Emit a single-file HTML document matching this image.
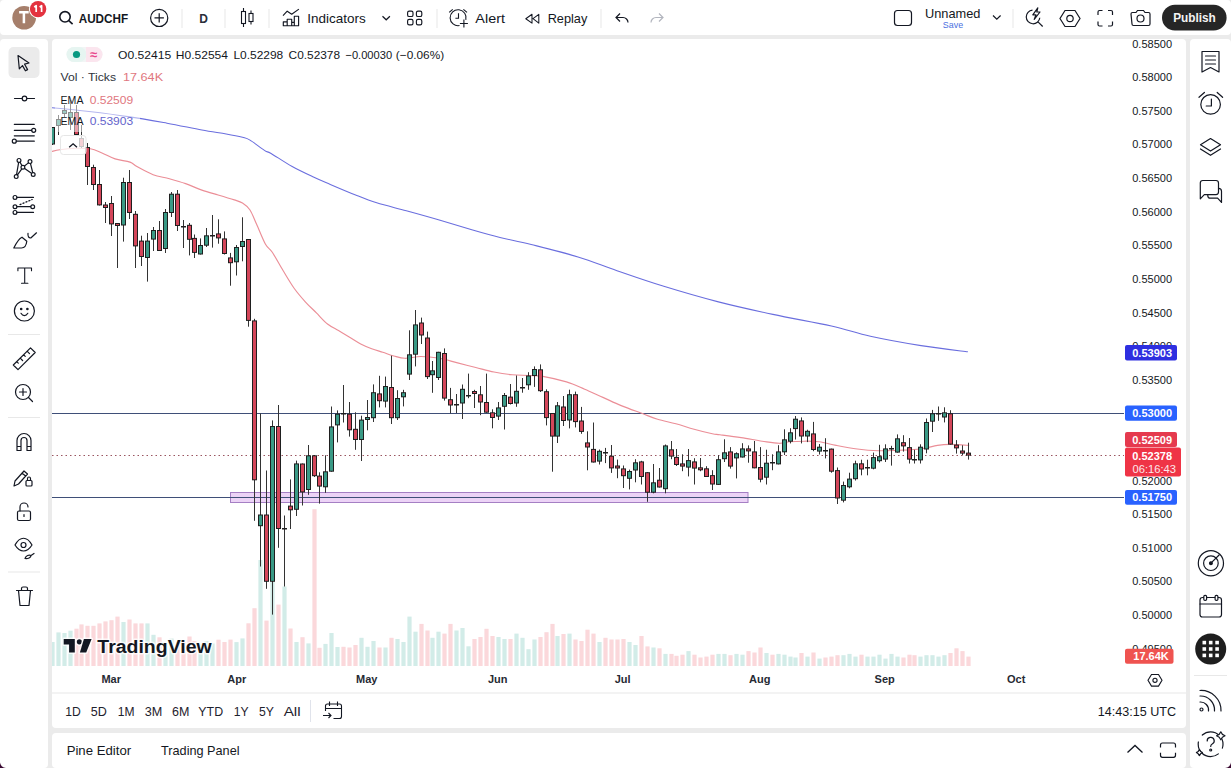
<!DOCTYPE html>
<html><head><meta charset="utf-8"><style>
*{box-sizing:border-box}
html,body{margin:0;padding:0}
body{width:1231px;height:768px;overflow:hidden;position:relative;background:#ebebeb;font-family:"Liberation Sans", sans-serif;color:#131722}
.p{position:absolute;background:#fff;border-radius:4px}
svg.full{position:absolute;left:0;top:0;font-family:"Liberation Sans", sans-serif}
</style></head><body>
<div class="p" style="left:0;top:0;width:1231px;height:35px"></div>
<div class="p" style="left:0;top:39px;width:48px;height:729px"></div>
<div class="p" style="left:52px;top:39px;width:1134px;height:689px"></div>
<div class="p" style="left:52px;top:733px;width:1134px;height:35px"></div>
<div class="p" style="left:1190px;top:39px;width:41px;height:729px"></div>
<svg class="full" width="1231" height="768" viewBox="0 0 1231 768">
<defs><clipPath id="cp"><rect x="52" y="39" width="1073" height="627"/></clipPath></defs>
<g clip-path="url(#cp)">
<rect x="50.4" y="642.0" width="4.2" height="24.0" fill="#d2ece8"/>
<rect x="56.4" y="632.4" width="4.2" height="33.6" fill="#d2ece8"/>
<rect x="62.4" y="633.0" width="4.2" height="33.0" fill="#d2ece8"/>
<rect x="68.4" y="630.7" width="4.2" height="35.3" fill="#d2ece8"/>
<rect x="74.4" y="628.7" width="4.2" height="37.3" fill="#fbd8db"/>
<rect x="79.4" y="624.4" width="4.2" height="41.6" fill="#fbd8db"/>
<rect x="85.4" y="625.8" width="4.2" height="40.2" fill="#fbd8db"/>
<rect x="91.4" y="625.8" width="4.2" height="40.2" fill="#fbd8db"/>
<rect x="97.4" y="623.4" width="4.2" height="42.6" fill="#fbd8db"/>
<rect x="103.4" y="621.4" width="4.2" height="44.6" fill="#fbd8db"/>
<rect x="109.4" y="620.2" width="4.2" height="45.8" fill="#fbd8db"/>
<rect x="115.4" y="616.6" width="4.2" height="49.4" fill="#fbd8db"/>
<rect x="121.4" y="622.0" width="4.2" height="44.0" fill="#d2ece8"/>
<rect x="127.4" y="619.5" width="4.2" height="46.5" fill="#fbd8db"/>
<rect x="133.4" y="623.4" width="4.2" height="42.6" fill="#fbd8db"/>
<rect x="139.4" y="623.4" width="4.2" height="42.6" fill="#fbd8db"/>
<rect x="145.4" y="623.4" width="4.2" height="42.6" fill="#d2ece8"/>
<rect x="151.4" y="634.8" width="4.2" height="31.2" fill="#d2ece8"/>
<rect x="157.4" y="637.3" width="4.2" height="28.7" fill="#fbd8db"/>
<rect x="163.4" y="642.9" width="4.2" height="23.1" fill="#d2ece8"/>
<rect x="169.4" y="638.5" width="4.2" height="27.5" fill="#d2ece8"/>
<rect x="175.4" y="643.9" width="4.2" height="22.1" fill="#fbd8db"/>
<rect x="181.4" y="642.0" width="4.2" height="24.0" fill="#fbd8db"/>
<rect x="187.4" y="636.5" width="4.2" height="29.5" fill="#fbd8db"/>
<rect x="192.4" y="641.0" width="4.2" height="25.0" fill="#fbd8db"/>
<rect x="198.4" y="643.9" width="4.2" height="22.1" fill="#d2ece8"/>
<rect x="204.4" y="641.0" width="4.2" height="25.0" fill="#d2ece8"/>
<rect x="210.4" y="643.4" width="4.2" height="22.6" fill="#d2ece8"/>
<rect x="216.4" y="639.7" width="4.2" height="26.3" fill="#fbd8db"/>
<rect x="222.4" y="642.0" width="4.2" height="24.0" fill="#fbd8db"/>
<rect x="228.4" y="639.6" width="4.2" height="26.4" fill="#fbd8db"/>
<rect x="234.4" y="642.1" width="4.2" height="23.9" fill="#d2ece8"/>
<rect x="240.4" y="638.4" width="4.2" height="27.6" fill="#d2ece8"/>
<rect x="246.4" y="623.3" width="4.2" height="42.7" fill="#fbd8db"/>
<rect x="252.4" y="608.2" width="4.2" height="57.8" fill="#fbd8db"/>
<rect x="258.4" y="560.0" width="4.2" height="106.0" fill="#d2ece8"/>
<rect x="264.4" y="620.6" width="4.2" height="45.4" fill="#fbd8db"/>
<rect x="270.4" y="582.0" width="4.2" height="84.0" fill="#d2ece8"/>
<rect x="276.4" y="604.6" width="4.2" height="61.4" fill="#fbd8db"/>
<rect x="282.4" y="586.5" width="4.2" height="79.5" fill="#d2ece8"/>
<rect x="288.4" y="628.5" width="4.2" height="37.5" fill="#fbd8db"/>
<rect x="294.4" y="642.0" width="4.2" height="24.0" fill="#d2ece8"/>
<rect x="300.4" y="637.2" width="4.2" height="28.8" fill="#fbd8db"/>
<rect x="306.4" y="643.4" width="4.2" height="22.6" fill="#d2ece8"/>
<rect x="312.4" y="509.2" width="4.2" height="156.8" fill="#fbd8db"/>
<rect x="317.4" y="647.8" width="4.2" height="18.2" fill="#fbd8db"/>
<rect x="323.4" y="643.9" width="4.2" height="22.1" fill="#d2ece8"/>
<rect x="329.4" y="633.0" width="4.2" height="33.0" fill="#d2ece8"/>
<rect x="335.4" y="647.0" width="4.2" height="19.0" fill="#d2ece8"/>
<rect x="341.4" y="646.8" width="4.2" height="19.2" fill="#fbd8db"/>
<rect x="347.4" y="647.5" width="4.2" height="18.5" fill="#fbd8db"/>
<rect x="353.4" y="645.0" width="4.2" height="21.0" fill="#fbd8db"/>
<rect x="359.4" y="637.8" width="4.2" height="28.2" fill="#d2ece8"/>
<rect x="365.4" y="646.8" width="4.2" height="19.2" fill="#d2ece8"/>
<rect x="371.4" y="641.0" width="4.2" height="25.0" fill="#d2ece8"/>
<rect x="377.4" y="647.5" width="4.2" height="18.5" fill="#fbd8db"/>
<rect x="383.4" y="647.5" width="4.2" height="18.5" fill="#d2ece8"/>
<rect x="389.4" y="637.8" width="4.2" height="28.2" fill="#fbd8db"/>
<rect x="395.4" y="639.0" width="4.2" height="27.0" fill="#d2ece8"/>
<rect x="401.4" y="642.0" width="4.2" height="24.0" fill="#d2ece8"/>
<rect x="407.4" y="616.6" width="4.2" height="49.4" fill="#d2ece8"/>
<rect x="413.4" y="631.7" width="4.2" height="34.3" fill="#d2ece8"/>
<rect x="419.4" y="623.9" width="4.2" height="42.1" fill="#fbd8db"/>
<rect x="425.4" y="630.5" width="4.2" height="35.5" fill="#fbd8db"/>
<rect x="430.4" y="637.8" width="4.2" height="28.2" fill="#d2ece8"/>
<rect x="436.4" y="631.7" width="4.2" height="34.3" fill="#d2ece8"/>
<rect x="442.4" y="633.6" width="4.2" height="32.4" fill="#fbd8db"/>
<rect x="448.4" y="623.9" width="4.2" height="42.1" fill="#fbd8db"/>
<rect x="454.4" y="630.5" width="4.2" height="35.5" fill="#d2ece8"/>
<rect x="460.4" y="628.0" width="4.2" height="38.0" fill="#d2ece8"/>
<rect x="466.4" y="646.3" width="4.2" height="19.7" fill="#d2ece8"/>
<rect x="472.4" y="639.0" width="4.2" height="27.0" fill="#fbd8db"/>
<rect x="478.4" y="637.0" width="4.2" height="29.0" fill="#fbd8db"/>
<rect x="484.4" y="628.8" width="4.2" height="37.2" fill="#fbd8db"/>
<rect x="490.4" y="636.0" width="4.2" height="30.0" fill="#fbd8db"/>
<rect x="496.4" y="637.0" width="4.2" height="29.0" fill="#d2ece8"/>
<rect x="502.4" y="639.0" width="4.2" height="27.0" fill="#d2ece8"/>
<rect x="508.4" y="639.0" width="4.2" height="27.0" fill="#fbd8db"/>
<rect x="514.4" y="633.6" width="4.2" height="32.4" fill="#d2ece8"/>
<rect x="520.4" y="637.8" width="4.2" height="28.2" fill="#d2ece8"/>
<rect x="526.4" y="649.2" width="4.2" height="16.8" fill="#d2ece8"/>
<rect x="532.4" y="639.5" width="4.2" height="26.5" fill="#d2ece8"/>
<rect x="538.4" y="637.0" width="4.2" height="29.0" fill="#fbd8db"/>
<rect x="544.4" y="632.2" width="4.2" height="33.8" fill="#fbd8db"/>
<rect x="550.4" y="623.9" width="4.2" height="42.1" fill="#fbd8db"/>
<rect x="555.4" y="636.0" width="4.2" height="30.0" fill="#d2ece8"/>
<rect x="561.4" y="634.0" width="4.2" height="32.0" fill="#fbd8db"/>
<rect x="567.4" y="633.6" width="4.2" height="32.4" fill="#d2ece8"/>
<rect x="573.4" y="639.5" width="4.2" height="26.5" fill="#fbd8db"/>
<rect x="579.4" y="641.0" width="4.2" height="25.0" fill="#fbd8db"/>
<rect x="585.4" y="629.7" width="4.2" height="36.3" fill="#fbd8db"/>
<rect x="591.4" y="633.6" width="4.2" height="32.4" fill="#fbd8db"/>
<rect x="597.4" y="642.0" width="4.2" height="24.0" fill="#d2ece8"/>
<rect x="603.4" y="637.8" width="4.2" height="28.2" fill="#fbd8db"/>
<rect x="609.4" y="639.5" width="4.2" height="26.5" fill="#fbd8db"/>
<rect x="615.4" y="639.5" width="4.2" height="26.5" fill="#fbd8db"/>
<rect x="621.4" y="639.0" width="4.2" height="27.0" fill="#fbd8db"/>
<rect x="627.4" y="642.0" width="4.2" height="24.0" fill="#d2ece8"/>
<rect x="633.4" y="645.0" width="4.2" height="21.0" fill="#d2ece8"/>
<rect x="639.4" y="636.0" width="4.2" height="30.0" fill="#fbd8db"/>
<rect x="645.4" y="646.4" width="4.2" height="19.6" fill="#fbd8db"/>
<rect x="651.4" y="647.5" width="4.2" height="18.5" fill="#d2ece8"/>
<rect x="657.4" y="648.3" width="4.2" height="17.7" fill="#fbd8db"/>
<rect x="663.4" y="653.9" width="4.2" height="12.1" fill="#d2ece8"/>
<rect x="669.4" y="653.9" width="4.2" height="12.1" fill="#fbd8db"/>
<rect x="674.4" y="655.8" width="4.2" height="10.2" fill="#fbd8db"/>
<rect x="680.4" y="654.7" width="4.2" height="11.3" fill="#fbd8db"/>
<rect x="686.4" y="651.1" width="4.2" height="14.9" fill="#d2ece8"/>
<rect x="692.4" y="654.7" width="4.2" height="11.3" fill="#fbd8db"/>
<rect x="698.4" y="657.5" width="4.2" height="8.5" fill="#fbd8db"/>
<rect x="704.4" y="656.6" width="4.2" height="9.4" fill="#fbd8db"/>
<rect x="710.4" y="654.7" width="4.2" height="11.3" fill="#fbd8db"/>
<rect x="716.4" y="653.9" width="4.2" height="12.1" fill="#d2ece8"/>
<rect x="722.4" y="653.9" width="4.2" height="12.1" fill="#d2ece8"/>
<rect x="728.4" y="655.2" width="4.2" height="10.8" fill="#fbd8db"/>
<rect x="734.4" y="653.9" width="4.2" height="12.1" fill="#d2ece8"/>
<rect x="740.4" y="654.7" width="4.2" height="11.3" fill="#d2ece8"/>
<rect x="746.4" y="651.1" width="4.2" height="14.9" fill="#fbd8db"/>
<rect x="752.4" y="652.5" width="4.2" height="13.5" fill="#fbd8db"/>
<rect x="758.4" y="647.5" width="4.2" height="18.5" fill="#fbd8db"/>
<rect x="764.4" y="653.0" width="4.2" height="13.0" fill="#d2ece8"/>
<rect x="770.4" y="654.7" width="4.2" height="11.3" fill="#fbd8db"/>
<rect x="776.4" y="653.9" width="4.2" height="12.1" fill="#d2ece8"/>
<rect x="782.4" y="654.7" width="4.2" height="11.3" fill="#d2ece8"/>
<rect x="788.4" y="656.6" width="4.2" height="9.4" fill="#d2ece8"/>
<rect x="793.4" y="657.5" width="4.2" height="8.5" fill="#d2ece8"/>
<rect x="799.4" y="653.0" width="4.2" height="13.0" fill="#fbd8db"/>
<rect x="805.4" y="656.6" width="4.2" height="9.4" fill="#d2ece8"/>
<rect x="811.4" y="652.5" width="4.2" height="13.5" fill="#fbd8db"/>
<rect x="817.4" y="658.6" width="4.2" height="7.4" fill="#d2ece8"/>
<rect x="823.4" y="657.5" width="4.2" height="8.5" fill="#fbd8db"/>
<rect x="829.4" y="656.6" width="4.2" height="9.4" fill="#fbd8db"/>
<rect x="835.4" y="655.2" width="4.2" height="10.8" fill="#fbd8db"/>
<rect x="841.4" y="655.2" width="4.2" height="10.8" fill="#d2ece8"/>
<rect x="847.4" y="653.9" width="4.2" height="12.1" fill="#d2ece8"/>
<rect x="853.4" y="656.6" width="4.2" height="9.4" fill="#d2ece8"/>
<rect x="859.4" y="654.7" width="4.2" height="11.3" fill="#fbd8db"/>
<rect x="865.4" y="656.6" width="4.2" height="9.4" fill="#d2ece8"/>
<rect x="871.4" y="656.6" width="4.2" height="9.4" fill="#d2ece8"/>
<rect x="877.4" y="654.7" width="4.2" height="11.3" fill="#d2ece8"/>
<rect x="883.4" y="658.6" width="4.2" height="7.4" fill="#d2ece8"/>
<rect x="889.4" y="653.9" width="4.2" height="12.1" fill="#d2ece8"/>
<rect x="895.4" y="656.6" width="4.2" height="9.4" fill="#d2ece8"/>
<rect x="901.4" y="657.5" width="4.2" height="8.5" fill="#fbd8db"/>
<rect x="907.4" y="654.7" width="4.2" height="11.3" fill="#fbd8db"/>
<rect x="912.4" y="655.2" width="4.2" height="10.8" fill="#fbd8db"/>
<rect x="918.4" y="656.6" width="4.2" height="9.4" fill="#d2ece8"/>
<rect x="924.4" y="655.2" width="4.2" height="10.8" fill="#d2ece8"/>
<rect x="930.4" y="655.2" width="4.2" height="10.8" fill="#d2ece8"/>
<rect x="936.4" y="656.6" width="4.2" height="9.4" fill="#d2ece8"/>
<rect x="942.4" y="655.2" width="4.2" height="10.8" fill="#d2ece8"/>
<rect x="948.4" y="653.0" width="4.2" height="13.0" fill="#fbd8db"/>
<rect x="954.4" y="648.3" width="4.2" height="17.7" fill="#fbd8db"/>
<rect x="960.4" y="651.1" width="4.2" height="14.9" fill="#fbd8db"/>
<rect x="966.4" y="656.6" width="4.2" height="9.4" fill="#fbd8db"/>
<rect x="230.5" y="492.5" width="517.5" height="10" fill="#ecd3f6" stroke="#a57fc4" stroke-width="1"/>
<rect x="52" y="413" width="1072" height="1" fill="#3f4f78"/>
<rect x="52" y="497" width="1072" height="1" fill="#3f4f78"/>
<line x1="52" y1="455.5" x2="1124" y2="455.5" stroke="#9a5560" stroke-width="1" stroke-dasharray="1.5 3"/>
<path d="M50.0,107.6 C56.5,108.2 76.0,110.0 89.0,111.5 C102.0,113.0 115.0,114.6 128.0,116.6 C141.0,118.5 154.7,121.0 167.0,123.2 C179.3,125.4 192.0,128.2 201.9,130.0 C211.8,131.8 219.4,132.8 226.2,134.0 C233.0,135.2 238.5,136.3 242.5,137.3 C246.5,138.3 246.3,137.9 250.0,140.1 C253.7,142.3 261.3,148.4 264.8,150.6 C268.3,152.8 266.5,150.8 271.1,153.4 C275.7,156.1 285.1,162.6 292.2,166.5 C299.2,170.4 307.0,174.0 313.4,177.0 C319.8,180.0 323.3,181.4 330.3,184.4 C337.3,187.4 347.9,191.9 355.6,195.0 C363.3,198.1 368.2,200.2 376.7,202.8 C385.1,205.4 395.7,207.9 406.3,210.8 C416.9,213.7 429.2,217.1 440.1,220.3 C451.0,223.5 461.8,226.9 471.8,229.8 C481.8,232.7 490.1,235.1 500.0,237.5 C509.9,239.9 518.2,241.2 531.2,244.5 C544.2,247.8 563.7,252.6 578.0,257.0 C592.3,261.4 602.7,265.8 617.0,270.7 C631.3,275.6 646.9,281.1 663.8,286.3 C680.7,291.5 700.2,297.2 718.4,301.9 C736.6,306.6 754.1,310.4 772.9,314.4 C791.7,318.4 815.1,322.4 831.4,326.0 C847.6,329.6 855.4,332.9 870.4,336.2 C885.4,339.5 904.9,343.0 921.1,345.6 C937.4,348.2 960.1,350.8 967.9,351.8" fill="none" stroke="#6a6ede" stroke-width="1.1"/>
<path d="M52.0,151.4 C53.3,151.1 56.0,150.2 59.8,149.7 C63.6,149.2 69.9,148.5 75.0,148.3 C80.1,148.2 85.9,148.0 90.4,148.8 C94.9,149.6 97.9,151.3 102.0,153.0 C106.1,154.7 110.4,157.4 115.1,158.9 C119.8,160.4 126.4,160.8 130.0,162.1 C133.6,163.4 133.1,164.5 136.9,166.6 C140.8,168.7 147.7,172.7 153.1,174.7 C158.5,176.7 164.0,177.2 169.4,178.7 C174.8,180.2 180.2,181.7 185.6,183.6 C191.0,185.5 196.5,188.2 201.9,190.1 C207.3,192.0 212.7,193.4 218.1,195.0 C223.5,196.6 230.2,198.6 234.3,199.9 C238.4,201.2 239.9,201.4 242.5,203.1 C245.1,204.8 247.7,206.5 250.0,210.0 C252.3,213.5 254.0,218.6 256.6,224.3 C259.2,230.0 262.9,239.7 265.5,244.3 C268.1,248.9 269.2,247.6 272.1,252.0 C275.1,256.4 279.5,264.7 283.2,270.8 C286.9,276.9 290.6,283.3 294.3,288.5 C298.0,293.7 301.6,297.7 305.3,301.8 C309.0,305.9 312.7,309.2 316.4,312.9 C320.1,316.6 323.8,321.1 327.5,324.0 C331.2,326.9 334.8,328.4 338.5,330.6 C342.2,332.8 345.9,335.0 349.6,337.2 C353.3,339.4 357.0,342.0 360.7,343.9 C364.4,345.8 368.0,347.3 371.7,348.7 C375.4,350.1 379.1,351.1 382.8,352.3 C386.5,353.5 390.2,355.0 393.9,356.0 C397.6,357.0 400.5,358.2 405.0,358.3 C409.5,358.4 415.3,356.5 421.0,356.5 C426.7,356.5 433.3,357.2 439.4,358.3 C445.5,359.4 451.5,361.4 457.6,362.9 C463.7,364.4 469.7,366.0 475.8,367.5 C481.9,369.0 487.9,370.8 494.0,372.0 C500.1,373.2 506.5,374.2 512.3,374.8 C518.1,375.4 523.6,375.2 528.7,375.5 C533.8,375.8 536.5,375.3 542.8,376.4 C549.1,377.5 559.5,379.8 566.5,381.9 C573.5,384.0 578.6,386.6 584.7,389.2 C590.8,391.8 596.8,394.7 602.9,397.4 C609.0,400.1 614.5,402.9 621.2,405.6 C627.9,408.3 636.9,411.5 643.0,413.8 C649.1,416.1 652.1,417.6 657.6,419.2 C663.1,420.9 669.8,422.1 675.9,423.8 C682.0,425.5 688.0,427.6 694.1,429.3 C700.2,431.0 708.0,432.9 712.3,433.8 C716.6,434.7 715.2,434.2 720.0,434.8 C724.8,435.4 734.1,436.5 741.1,437.6 C748.1,438.7 755.9,440.2 762.2,441.2 C768.5,442.1 774.5,443.2 779.1,443.3 C783.7,443.4 785.5,442.2 789.7,441.8 C793.9,441.4 799.6,441.2 804.5,441.2 C809.4,441.2 814.0,441.1 819.3,441.8 C824.6,442.5 829.9,444.2 836.2,445.4 C842.5,446.6 850.3,448.1 857.3,449.0 C864.3,449.9 871.4,450.5 878.4,450.7 C885.4,450.9 892.5,450.6 899.5,450.3 C906.5,450.0 914.3,449.8 920.6,449.0 C926.9,448.2 932.6,446.2 937.5,445.4 C942.4,444.6 944.9,444.4 950.2,444.4 C955.5,444.4 966.0,445.2 969.2,445.4" fill="none" stroke="#eb8e97" stroke-width="1.15"/>
<rect x="52" y="127.0" width="1" height="18.0" fill="#333333"/>
<rect x="50" y="127.0" width="5" height="17.5" fill="#1f1f1f"/>
<rect x="51" y="128.0" width="3" height="15.5" fill="#3a9a86"/>
<rect x="58" y="115.0" width="1" height="20.0" fill="#333333"/>
<rect x="56" y="119.0" width="5" height="7.0" fill="#1f1f1f"/>
<rect x="57" y="120.0" width="3" height="5.0" fill="#3a9a86"/>
<rect x="64" y="105.0" width="1" height="12.0" fill="#333333"/>
<rect x="62" y="110.0" width="5" height="4.0" fill="#1f1f1f"/>
<rect x="63" y="111.0" width="3" height="2.0" fill="#3a9a86"/>
<rect x="70" y="100.0" width="1" height="30.0" fill="#333333"/>
<rect x="68" y="112.0" width="5" height="6.0" fill="#1f1f1f"/>
<rect x="69" y="113.0" width="3" height="4.0" fill="#3a9a86"/>
<rect x="76" y="105.0" width="1" height="30.0" fill="#333333"/>
<rect x="74" y="112.0" width="5" height="23.0" fill="#1f1f1f"/>
<rect x="75" y="113.0" width="3" height="21.0" fill="#d4465a"/>
<rect x="81" y="125.0" width="1" height="23.0" fill="#333333"/>
<rect x="79" y="138.0" width="5" height="9.0" fill="#1f1f1f"/>
<rect x="80" y="139.0" width="3" height="7.0" fill="#d4465a"/>
<rect x="87" y="143.0" width="1" height="42.0" fill="#333333"/>
<rect x="85" y="147.0" width="5" height="20.0" fill="#1f1f1f"/>
<rect x="86" y="148.0" width="3" height="18.0" fill="#d4465a"/>
<rect x="93" y="164.7" width="1" height="25.3" fill="#333333"/>
<rect x="91" y="167.0" width="5" height="18.0" fill="#1f1f1f"/>
<rect x="92" y="168.0" width="3" height="16.0" fill="#d4465a"/>
<rect x="99" y="170.0" width="1" height="35.5" fill="#333333"/>
<rect x="97" y="184.0" width="5" height="21.4" fill="#1f1f1f"/>
<rect x="98" y="185.0" width="3" height="19.4" fill="#d4465a"/>
<rect x="105" y="202.0" width="1" height="21.0" fill="#333333"/>
<rect x="103" y="204.5" width="5" height="3.5" fill="#1f1f1f"/>
<rect x="104" y="205.5" width="3" height="1.5" fill="#d4465a"/>
<rect x="111" y="196.0" width="1" height="40.0" fill="#333333"/>
<rect x="109" y="203.0" width="5" height="21.4" fill="#1f1f1f"/>
<rect x="110" y="204.0" width="3" height="19.4" fill="#d4465a"/>
<rect x="117" y="223.0" width="1" height="45.0" fill="#333333"/>
<rect x="115" y="223.0" width="5" height="3.0" fill="#1f1f1f"/>
<rect x="116" y="224.0" width="3" height="1.0" fill="#d4465a"/>
<rect x="123" y="177.7" width="1" height="63.9" fill="#333333"/>
<rect x="121" y="182.0" width="5" height="43.5" fill="#1f1f1f"/>
<rect x="122" y="183.0" width="3" height="41.5" fill="#3a9a86"/>
<rect x="129" y="170.0" width="1" height="49.0" fill="#333333"/>
<rect x="127" y="182.0" width="5" height="31.0" fill="#1f1f1f"/>
<rect x="128" y="183.0" width="3" height="29.0" fill="#d4465a"/>
<rect x="135" y="211.0" width="1" height="57.0" fill="#333333"/>
<rect x="133" y="213.8" width="5" height="32.6" fill="#1f1f1f"/>
<rect x="134" y="214.8" width="3" height="30.6" fill="#d4465a"/>
<rect x="141" y="235.7" width="1" height="30.3" fill="#333333"/>
<rect x="139" y="240.6" width="5" height="16.4" fill="#1f1f1f"/>
<rect x="140" y="241.6" width="3" height="14.4" fill="#d4465a"/>
<rect x="147" y="233.0" width="1" height="48.6" fill="#333333"/>
<rect x="145" y="240.6" width="5" height="17.4" fill="#1f1f1f"/>
<rect x="146" y="241.6" width="3" height="15.4" fill="#3a9a86"/>
<rect x="153" y="227.0" width="1" height="24.0" fill="#333333"/>
<rect x="151" y="230.0" width="5" height="9.6" fill="#1f1f1f"/>
<rect x="152" y="231.0" width="3" height="7.6" fill="#3a9a86"/>
<rect x="159" y="221.0" width="1" height="30.0" fill="#333333"/>
<rect x="157" y="230.0" width="5" height="21.0" fill="#1f1f1f"/>
<rect x="158" y="231.0" width="3" height="19.0" fill="#d4465a"/>
<rect x="165" y="209.0" width="1" height="44.0" fill="#333333"/>
<rect x="163" y="212.0" width="5" height="37.0" fill="#1f1f1f"/>
<rect x="164" y="213.0" width="3" height="35.0" fill="#3a9a86"/>
<rect x="171" y="192.0" width="1" height="25.0" fill="#333333"/>
<rect x="169" y="193.7" width="5" height="19.3" fill="#1f1f1f"/>
<rect x="170" y="194.7" width="3" height="17.3" fill="#3a9a86"/>
<rect x="177" y="190.0" width="1" height="41.0" fill="#333333"/>
<rect x="175" y="193.7" width="5" height="32.3" fill="#1f1f1f"/>
<rect x="176" y="194.7" width="3" height="30.3" fill="#d4465a"/>
<rect x="183" y="220.0" width="1" height="28.0" fill="#333333"/>
<rect x="181" y="226" width="5" height="1.5" fill="#1f1f1f"/>
<rect x="189" y="223.0" width="1" height="32.4" fill="#333333"/>
<rect x="187" y="224.8" width="5" height="15.0" fill="#1f1f1f"/>
<rect x="188" y="225.8" width="3" height="13.0" fill="#d4465a"/>
<rect x="194" y="234.5" width="1" height="23.5" fill="#333333"/>
<rect x="192" y="237.9" width="5" height="15.0" fill="#1f1f1f"/>
<rect x="193" y="238.9" width="3" height="13.0" fill="#d4465a"/>
<rect x="200" y="238.4" width="1" height="16.1" fill="#333333"/>
<rect x="198" y="245.0" width="5" height="9.5" fill="#1f1f1f"/>
<rect x="199" y="246.0" width="3" height="7.5" fill="#3a9a86"/>
<rect x="206" y="228.0" width="1" height="19.0" fill="#333333"/>
<rect x="204" y="235.3" width="5" height="10.4" fill="#1f1f1f"/>
<rect x="205" y="236.3" width="3" height="8.4" fill="#3a9a86"/>
<rect x="212" y="215.0" width="1" height="32.6" fill="#333333"/>
<rect x="210" y="235" width="5" height="1.5" fill="#1f1f1f"/>
<rect x="218" y="219.3" width="1" height="24.4" fill="#333333"/>
<rect x="216" y="233.4" width="5" height="5.0" fill="#1f1f1f"/>
<rect x="217" y="234.4" width="3" height="3.0" fill="#d4465a"/>
<rect x="224" y="231.4" width="1" height="23.1" fill="#333333"/>
<rect x="222" y="238.4" width="5" height="15.6" fill="#1f1f1f"/>
<rect x="223" y="239.4" width="3" height="13.6" fill="#d4465a"/>
<rect x="230" y="252.9" width="1" height="32.8" fill="#333333"/>
<rect x="228" y="257.4" width="5" height="5.8" fill="#1f1f1f"/>
<rect x="229" y="258.4" width="3" height="3.8" fill="#d4465a"/>
<rect x="236" y="245.0" width="1" height="30.5" fill="#333333"/>
<rect x="234" y="247.0" width="5" height="15.3" fill="#1f1f1f"/>
<rect x="235" y="248.0" width="3" height="13.3" fill="#3a9a86"/>
<rect x="242" y="217.3" width="1" height="44.0" fill="#333333"/>
<rect x="240" y="241.0" width="5" height="6.0" fill="#1f1f1f"/>
<rect x="241" y="242.0" width="3" height="4.0" fill="#3a9a86"/>
<rect x="248" y="239.0" width="1" height="87.7" fill="#333333"/>
<rect x="246" y="239.0" width="5" height="81.9" fill="#1f1f1f"/>
<rect x="247" y="240.0" width="3" height="79.9" fill="#d4465a"/>
<rect x="254" y="318.8" width="1" height="202.0" fill="#333333"/>
<rect x="252" y="320.4" width="5" height="159.9" fill="#1f1f1f"/>
<rect x="253" y="321.4" width="3" height="157.9" fill="#d4465a"/>
<rect x="260" y="413.5" width="1" height="153.0" fill="#333333"/>
<rect x="258" y="514.5" width="5" height="11.7" fill="#1f1f1f"/>
<rect x="259" y="515.5" width="3" height="9.7" fill="#3a9a86"/>
<rect x="266" y="470.5" width="1" height="118.3" fill="#333333"/>
<rect x="264" y="514.5" width="5" height="67.3" fill="#1f1f1f"/>
<rect x="265" y="515.5" width="3" height="65.3" fill="#d4465a"/>
<rect x="272" y="420.4" width="1" height="194.2" fill="#333333"/>
<rect x="270" y="426.0" width="5" height="155.8" fill="#1f1f1f"/>
<rect x="271" y="427.0" width="3" height="153.8" fill="#3a9a86"/>
<rect x="278" y="405.0" width="1" height="142.8" fill="#333333"/>
<rect x="276" y="426.0" width="5" height="103.0" fill="#1f1f1f"/>
<rect x="277" y="427.0" width="3" height="101.0" fill="#d4465a"/>
<rect x="284" y="515.5" width="1" height="71.0" fill="#333333"/>
<rect x="282" y="528" width="5" height="1.5" fill="#1f1f1f"/>
<rect x="290" y="479.4" width="1" height="49.6" fill="#333333"/>
<rect x="288" y="505.6" width="5" height="4.7" fill="#1f1f1f"/>
<rect x="289" y="506.6" width="3" height="2.7" fill="#d4465a"/>
<rect x="296" y="460.6" width="1" height="55.4" fill="#333333"/>
<rect x="294" y="463.4" width="5" height="46.4" fill="#1f1f1f"/>
<rect x="295" y="464.4" width="3" height="44.4" fill="#3a9a86"/>
<rect x="302" y="463.5" width="1" height="42.0" fill="#333333"/>
<rect x="300" y="463.5" width="5" height="28.9" fill="#1f1f1f"/>
<rect x="301" y="464.5" width="3" height="26.9" fill="#d4465a"/>
<rect x="308" y="445.0" width="1" height="49.8" fill="#333333"/>
<rect x="306" y="455.3" width="5" height="34.7" fill="#1f1f1f"/>
<rect x="307" y="456.3" width="3" height="32.7" fill="#3a9a86"/>
<rect x="314" y="455.0" width="1" height="22.0" fill="#333333"/>
<rect x="312" y="455.3" width="5" height="20.9" fill="#1f1f1f"/>
<rect x="313" y="456.3" width="3" height="18.9" fill="#d4465a"/>
<rect x="319" y="472.3" width="1" height="31.3" fill="#333333"/>
<rect x="317" y="475.6" width="5" height="11.0" fill="#1f1f1f"/>
<rect x="318" y="476.6" width="3" height="9.0" fill="#d4465a"/>
<rect x="325" y="455.3" width="1" height="37.5" fill="#333333"/>
<rect x="323" y="471.3" width="5" height="16.0" fill="#1f1f1f"/>
<rect x="324" y="472.3" width="3" height="14.0" fill="#3a9a86"/>
<rect x="331" y="406.5" width="1" height="65.2" fill="#333333"/>
<rect x="329" y="426.4" width="5" height="45.3" fill="#1f1f1f"/>
<rect x="330" y="427.4" width="3" height="43.3" fill="#3a9a86"/>
<rect x="337" y="410.4" width="1" height="32.0" fill="#333333"/>
<rect x="335" y="413.7" width="5" height="11.7" fill="#1f1f1f"/>
<rect x="336" y="414.7" width="3" height="9.7" fill="#3a9a86"/>
<rect x="343" y="385.0" width="1" height="37.5" fill="#333333"/>
<rect x="341" y="413" width="5" height="1.5" fill="#1f1f1f"/>
<rect x="349" y="402.0" width="1" height="34.6" fill="#333333"/>
<rect x="347" y="413.7" width="5" height="16.6" fill="#1f1f1f"/>
<rect x="348" y="414.7" width="3" height="14.6" fill="#d4465a"/>
<rect x="355" y="412.3" width="1" height="37.5" fill="#333333"/>
<rect x="353" y="428.8" width="5" height="11.2" fill="#1f1f1f"/>
<rect x="354" y="429.8" width="3" height="9.2" fill="#d4465a"/>
<rect x="361" y="415.7" width="1" height="45.3" fill="#333333"/>
<rect x="359" y="419.6" width="5" height="20.4" fill="#1f1f1f"/>
<rect x="360" y="420.6" width="3" height="18.4" fill="#3a9a86"/>
<rect x="367" y="400.0" width="1" height="30.3" fill="#333333"/>
<rect x="365" y="417.0" width="5" height="3.0" fill="#1f1f1f"/>
<rect x="366" y="418.0" width="3" height="1.0" fill="#3a9a86"/>
<rect x="373" y="384.4" width="1" height="37.6" fill="#333333"/>
<rect x="371" y="392.2" width="5" height="26.0" fill="#1f1f1f"/>
<rect x="372" y="393.2" width="3" height="24.0" fill="#3a9a86"/>
<rect x="379" y="375.8" width="1" height="31.6" fill="#333333"/>
<rect x="377" y="393.4" width="5" height="7.8" fill="#1f1f1f"/>
<rect x="378" y="394.4" width="3" height="5.8" fill="#d4465a"/>
<rect x="385" y="376.6" width="1" height="30.8" fill="#333333"/>
<rect x="383" y="386.0" width="5" height="15.6" fill="#1f1f1f"/>
<rect x="384" y="387.0" width="3" height="13.6" fill="#3a9a86"/>
<rect x="391" y="355.7" width="1" height="68.3" fill="#333333"/>
<rect x="389" y="387.0" width="5" height="31.2" fill="#1f1f1f"/>
<rect x="390" y="388.0" width="3" height="29.2" fill="#d4465a"/>
<rect x="397" y="390.2" width="1" height="29.8" fill="#333333"/>
<rect x="395" y="398.0" width="5" height="20.2" fill="#1f1f1f"/>
<rect x="396" y="399.0" width="3" height="18.2" fill="#3a9a86"/>
<rect x="403" y="389.8" width="1" height="16.6" fill="#333333"/>
<rect x="401" y="392.2" width="5" height="5.1" fill="#1f1f1f"/>
<rect x="402" y="393.2" width="3" height="3.1" fill="#3a9a86"/>
<rect x="409" y="330.3" width="1" height="49.7" fill="#333333"/>
<rect x="407" y="354.3" width="5" height="20.3" fill="#1f1f1f"/>
<rect x="408" y="355.3" width="3" height="18.3" fill="#3a9a86"/>
<rect x="415" y="310.0" width="1" height="56.4" fill="#333333"/>
<rect x="413" y="324.4" width="5" height="30.3" fill="#1f1f1f"/>
<rect x="414" y="325.4" width="3" height="28.3" fill="#3a9a86"/>
<rect x="421" y="317.6" width="1" height="26.4" fill="#333333"/>
<rect x="419" y="322.5" width="5" height="13.0" fill="#1f1f1f"/>
<rect x="420" y="323.5" width="3" height="11.0" fill="#d4465a"/>
<rect x="427" y="331.6" width="1" height="47.4" fill="#333333"/>
<rect x="425" y="337.5" width="5" height="39.6" fill="#1f1f1f"/>
<rect x="426" y="338.5" width="3" height="37.6" fill="#d4465a"/>
<rect x="432" y="361.0" width="1" height="31.8" fill="#333333"/>
<rect x="430" y="370.3" width="5" height="4.9" fill="#1f1f1f"/>
<rect x="431" y="371.3" width="3" height="2.9" fill="#3a9a86"/>
<rect x="438" y="351.8" width="1" height="28.2" fill="#333333"/>
<rect x="436" y="351.8" width="5" height="26.2" fill="#1f1f1f"/>
<rect x="437" y="352.8" width="3" height="24.2" fill="#3a9a86"/>
<rect x="444" y="348.4" width="1" height="52.2" fill="#333333"/>
<rect x="442" y="353.0" width="5" height="45.6" fill="#1f1f1f"/>
<rect x="443" y="354.0" width="3" height="43.6" fill="#d4465a"/>
<rect x="450" y="387.9" width="1" height="25.4" fill="#333333"/>
<rect x="448" y="399.2" width="5" height="6.3" fill="#1f1f1f"/>
<rect x="449" y="400.2" width="3" height="4.3" fill="#d4465a"/>
<rect x="456" y="394.0" width="1" height="19.0" fill="#333333"/>
<rect x="454" y="404" width="5" height="1.5" fill="#1f1f1f"/>
<rect x="462" y="384.5" width="1" height="34.5" fill="#333333"/>
<rect x="460" y="388.8" width="5" height="14.7" fill="#1f1f1f"/>
<rect x="461" y="389.8" width="3" height="12.7" fill="#3a9a86"/>
<rect x="468" y="373.6" width="1" height="24.6" fill="#333333"/>
<rect x="466" y="395" width="5" height="1.5" fill="#1f1f1f"/>
<rect x="474" y="389.8" width="1" height="18.2" fill="#333333"/>
<rect x="472" y="391.0" width="5" height="3.0" fill="#1f1f1f"/>
<rect x="473" y="392.0" width="3" height="1.0" fill="#d4465a"/>
<rect x="480" y="386.0" width="1" height="29.2" fill="#333333"/>
<rect x="478" y="394.3" width="5" height="8.2" fill="#1f1f1f"/>
<rect x="479" y="395.3" width="3" height="6.2" fill="#d4465a"/>
<rect x="486" y="373.6" width="1" height="39.1" fill="#333333"/>
<rect x="484" y="402.0" width="5" height="10.7" fill="#1f1f1f"/>
<rect x="485" y="403.0" width="3" height="8.7" fill="#d4465a"/>
<rect x="492" y="409.3" width="1" height="19.0" fill="#333333"/>
<rect x="490" y="412.3" width="5" height="5.7" fill="#1f1f1f"/>
<rect x="491" y="413.3" width="3" height="3.7" fill="#d4465a"/>
<rect x="498" y="402.0" width="1" height="18.0" fill="#333333"/>
<rect x="496" y="407.4" width="5" height="9.2" fill="#1f1f1f"/>
<rect x="497" y="408.4" width="3" height="7.2" fill="#3a9a86"/>
<rect x="504" y="393.0" width="1" height="36.5" fill="#333333"/>
<rect x="502" y="395.0" width="5" height="11.8" fill="#1f1f1f"/>
<rect x="503" y="396.0" width="3" height="9.8" fill="#3a9a86"/>
<rect x="510" y="384.0" width="1" height="20.5" fill="#333333"/>
<rect x="508" y="396.6" width="5" height="7.4" fill="#1f1f1f"/>
<rect x="509" y="397.6" width="3" height="5.4" fill="#d4465a"/>
<rect x="516" y="375.5" width="1" height="31.3" fill="#333333"/>
<rect x="514" y="390.8" width="5" height="12.7" fill="#1f1f1f"/>
<rect x="515" y="391.8" width="3" height="10.7" fill="#3a9a86"/>
<rect x="522" y="378.0" width="1" height="14.7" fill="#333333"/>
<rect x="520" y="387" width="5" height="1.5" fill="#1f1f1f"/>
<rect x="528" y="372.2" width="1" height="17.6" fill="#333333"/>
<rect x="526" y="375.5" width="5" height="9.8" fill="#1f1f1f"/>
<rect x="527" y="376.5" width="3" height="7.8" fill="#3a9a86"/>
<rect x="534" y="366.4" width="1" height="20.5" fill="#333333"/>
<rect x="532" y="369.0" width="5" height="7.0" fill="#1f1f1f"/>
<rect x="533" y="370.0" width="3" height="5.0" fill="#3a9a86"/>
<rect x="540" y="364.4" width="1" height="27.6" fill="#333333"/>
<rect x="538" y="369.3" width="5" height="21.9" fill="#1f1f1f"/>
<rect x="539" y="370.3" width="3" height="19.9" fill="#d4465a"/>
<rect x="546" y="389.3" width="1" height="36.1" fill="#333333"/>
<rect x="544" y="391.2" width="5" height="26.9" fill="#1f1f1f"/>
<rect x="545" y="392.2" width="3" height="24.9" fill="#d4465a"/>
<rect x="552" y="413.0" width="1" height="58.7" fill="#333333"/>
<rect x="550" y="413.0" width="5" height="23.6" fill="#1f1f1f"/>
<rect x="551" y="414.0" width="3" height="21.6" fill="#d4465a"/>
<rect x="557" y="402.0" width="1" height="41.0" fill="#333333"/>
<rect x="555" y="405.3" width="5" height="31.3" fill="#1f1f1f"/>
<rect x="556" y="406.3" width="3" height="29.3" fill="#3a9a86"/>
<rect x="563" y="396.0" width="1" height="30.0" fill="#333333"/>
<rect x="561" y="406.5" width="5" height="14.5" fill="#1f1f1f"/>
<rect x="562" y="407.5" width="3" height="12.5" fill="#d4465a"/>
<rect x="569" y="389.7" width="1" height="38.7" fill="#333333"/>
<rect x="567" y="394.2" width="5" height="26.3" fill="#1f1f1f"/>
<rect x="568" y="395.2" width="3" height="24.3" fill="#3a9a86"/>
<rect x="575" y="391.6" width="1" height="35.8" fill="#333333"/>
<rect x="573" y="394.2" width="5" height="27.9" fill="#1f1f1f"/>
<rect x="574" y="395.2" width="3" height="25.9" fill="#d4465a"/>
<rect x="581" y="406.9" width="1" height="26.9" fill="#333333"/>
<rect x="579" y="420.5" width="5" height="11.4" fill="#1f1f1f"/>
<rect x="580" y="421.5" width="3" height="9.4" fill="#d4465a"/>
<rect x="587" y="431.3" width="1" height="39.0" fill="#333333"/>
<rect x="585" y="442.4" width="5" height="5.1" fill="#1f1f1f"/>
<rect x="586" y="443.4" width="3" height="3.1" fill="#d4465a"/>
<rect x="593" y="422.5" width="1" height="40.0" fill="#333333"/>
<rect x="591" y="448.9" width="5" height="13.6" fill="#1f1f1f"/>
<rect x="592" y="449.9" width="3" height="11.6" fill="#d4465a"/>
<rect x="599" y="449.5" width="1" height="15.0" fill="#333333"/>
<rect x="597" y="450.8" width="5" height="10.8" fill="#1f1f1f"/>
<rect x="598" y="451.8" width="3" height="8.8" fill="#3a9a86"/>
<rect x="605" y="447.9" width="1" height="15.2" fill="#333333"/>
<rect x="603" y="452" width="5" height="1.5" fill="#1f1f1f"/>
<rect x="611" y="445.0" width="1" height="27.9" fill="#333333"/>
<rect x="609" y="455.7" width="5" height="12.7" fill="#1f1f1f"/>
<rect x="610" y="456.7" width="3" height="10.7" fill="#d4465a"/>
<rect x="617" y="459.6" width="1" height="18.6" fill="#333333"/>
<rect x="615" y="465.5" width="5" height="3.0" fill="#1f1f1f"/>
<rect x="616" y="466.5" width="3" height="1.0" fill="#d4465a"/>
<rect x="623" y="465.5" width="1" height="22.5" fill="#333333"/>
<rect x="621" y="468.4" width="5" height="7.8" fill="#1f1f1f"/>
<rect x="622" y="469.4" width="3" height="5.8" fill="#d4465a"/>
<rect x="629" y="469.6" width="1" height="19.8" fill="#333333"/>
<rect x="627" y="471.0" width="5" height="7.8" fill="#1f1f1f"/>
<rect x="628" y="472.0" width="3" height="5.8" fill="#3a9a86"/>
<rect x="635" y="459.2" width="1" height="23.1" fill="#333333"/>
<rect x="633" y="462.3" width="5" height="8.2" fill="#1f1f1f"/>
<rect x="634" y="463.3" width="3" height="6.2" fill="#3a9a86"/>
<rect x="641" y="460.8" width="1" height="23.7" fill="#333333"/>
<rect x="639" y="461.4" width="5" height="15.6" fill="#1f1f1f"/>
<rect x="640" y="462.4" width="3" height="13.6" fill="#d4465a"/>
<rect x="647" y="472.2" width="1" height="29.6" fill="#333333"/>
<rect x="645" y="472.2" width="5" height="20.5" fill="#1f1f1f"/>
<rect x="646" y="473.2" width="3" height="18.5" fill="#d4465a"/>
<rect x="653" y="464.0" width="1" height="29.3" fill="#333333"/>
<rect x="651" y="482.3" width="5" height="10.4" fill="#1f1f1f"/>
<rect x="652" y="483.3" width="3" height="8.4" fill="#3a9a86"/>
<rect x="659" y="468.0" width="1" height="19.5" fill="#333333"/>
<rect x="657" y="479.7" width="5" height="7.8" fill="#1f1f1f"/>
<rect x="658" y="480.7" width="3" height="5.8" fill="#d4465a"/>
<rect x="665" y="444.5" width="1" height="48.8" fill="#333333"/>
<rect x="663" y="445.4" width="5" height="43.8" fill="#1f1f1f"/>
<rect x="664" y="446.4" width="3" height="41.8" fill="#3a9a86"/>
<rect x="671" y="441.0" width="1" height="18.2" fill="#333333"/>
<rect x="669" y="449.3" width="5" height="7.3" fill="#1f1f1f"/>
<rect x="670" y="450.3" width="3" height="5.3" fill="#d4465a"/>
<rect x="676" y="449.0" width="1" height="17.0" fill="#333333"/>
<rect x="674" y="456.9" width="5" height="8.1" fill="#1f1f1f"/>
<rect x="675" y="457.9" width="3" height="6.1" fill="#d4465a"/>
<rect x="682" y="454.3" width="1" height="16.9" fill="#333333"/>
<rect x="680" y="463.4" width="5" height="3.2" fill="#1f1f1f"/>
<rect x="681" y="464.4" width="3" height="1.2" fill="#d4465a"/>
<rect x="688" y="449.0" width="1" height="27.4" fill="#333333"/>
<rect x="686" y="460.1" width="5" height="7.5" fill="#1f1f1f"/>
<rect x="687" y="461.1" width="3" height="5.5" fill="#3a9a86"/>
<rect x="694" y="458.2" width="1" height="26.3" fill="#333333"/>
<rect x="692" y="461.4" width="5" height="7.2" fill="#1f1f1f"/>
<rect x="693" y="462.4" width="3" height="5.2" fill="#d4465a"/>
<rect x="700" y="458.0" width="1" height="13.2" fill="#333333"/>
<rect x="698" y="467.3" width="5" height="3.0" fill="#1f1f1f"/>
<rect x="699" y="468.3" width="3" height="1.0" fill="#d4465a"/>
<rect x="706" y="466.2" width="1" height="10.8" fill="#333333"/>
<rect x="704" y="468.3" width="5" height="8.7" fill="#1f1f1f"/>
<rect x="705" y="469.3" width="3" height="6.7" fill="#d4465a"/>
<rect x="712" y="470.2" width="1" height="19.8" fill="#333333"/>
<rect x="710" y="475.1" width="5" height="9.4" fill="#1f1f1f"/>
<rect x="711" y="476.1" width="3" height="7.4" fill="#d4465a"/>
<rect x="718" y="455.3" width="1" height="29.6" fill="#333333"/>
<rect x="716" y="459.2" width="5" height="25.7" fill="#1f1f1f"/>
<rect x="717" y="460.2" width="3" height="23.7" fill="#3a9a86"/>
<rect x="724" y="439.3" width="1" height="22.7" fill="#333333"/>
<rect x="722" y="452.3" width="5" height="6.9" fill="#1f1f1f"/>
<rect x="723" y="453.3" width="3" height="4.9" fill="#3a9a86"/>
<rect x="730" y="447.1" width="1" height="21.5" fill="#333333"/>
<rect x="728" y="451.4" width="5" height="15.2" fill="#1f1f1f"/>
<rect x="729" y="452.4" width="3" height="13.2" fill="#d4465a"/>
<rect x="736" y="452.3" width="1" height="26.1" fill="#333333"/>
<rect x="734" y="453.2" width="5" height="5.2" fill="#1f1f1f"/>
<rect x="735" y="454.2" width="3" height="3.2" fill="#3a9a86"/>
<rect x="742" y="443.2" width="1" height="14.3" fill="#333333"/>
<rect x="740" y="448.4" width="5" height="9.1" fill="#1f1f1f"/>
<rect x="741" y="449.4" width="3" height="7.1" fill="#3a9a86"/>
<rect x="748" y="445.4" width="1" height="17.3" fill="#333333"/>
<rect x="746" y="448.4" width="5" height="3.0" fill="#1f1f1f"/>
<rect x="747" y="449.4" width="3" height="1.0" fill="#d4465a"/>
<rect x="754" y="441.0" width="1" height="27.3" fill="#333333"/>
<rect x="752" y="451.4" width="5" height="16.9" fill="#1f1f1f"/>
<rect x="753" y="452.4" width="3" height="14.9" fill="#d4465a"/>
<rect x="760" y="447.1" width="1" height="35.2" fill="#333333"/>
<rect x="758" y="467.0" width="5" height="12.7" fill="#1f1f1f"/>
<rect x="759" y="468.0" width="3" height="10.7" fill="#d4465a"/>
<rect x="766" y="449.7" width="1" height="34.8" fill="#333333"/>
<rect x="764" y="462.7" width="5" height="15.0" fill="#1f1f1f"/>
<rect x="765" y="463.7" width="3" height="13.0" fill="#3a9a86"/>
<rect x="772" y="454.3" width="1" height="15.9" fill="#333333"/>
<rect x="770" y="462" width="5" height="1.5" fill="#1f1f1f"/>
<rect x="778" y="445.2" width="1" height="19.2" fill="#333333"/>
<rect x="776" y="451.4" width="5" height="13.0" fill="#1f1f1f"/>
<rect x="777" y="452.4" width="3" height="11.0" fill="#3a9a86"/>
<rect x="784" y="429.3" width="1" height="25.7" fill="#333333"/>
<rect x="782" y="439.3" width="5" height="13.0" fill="#1f1f1f"/>
<rect x="783" y="440.3" width="3" height="11.0" fill="#3a9a86"/>
<rect x="790" y="428.2" width="1" height="15.2" fill="#333333"/>
<rect x="788" y="432.3" width="5" height="9.4" fill="#1f1f1f"/>
<rect x="789" y="433.3" width="3" height="7.4" fill="#3a9a86"/>
<rect x="795" y="416.0" width="1" height="23.5" fill="#333333"/>
<rect x="793" y="418.7" width="5" height="10.4" fill="#1f1f1f"/>
<rect x="794" y="419.7" width="3" height="8.4" fill="#3a9a86"/>
<rect x="801" y="417.4" width="1" height="26.0" fill="#333333"/>
<rect x="799" y="420.4" width="5" height="16.1" fill="#1f1f1f"/>
<rect x="800" y="421.4" width="3" height="14.1" fill="#d4465a"/>
<rect x="807" y="429.7" width="1" height="12.4" fill="#333333"/>
<rect x="805" y="430.8" width="5" height="5.7" fill="#1f1f1f"/>
<rect x="806" y="431.8" width="3" height="3.7" fill="#3a9a86"/>
<rect x="813" y="421.9" width="1" height="29.3" fill="#333333"/>
<rect x="811" y="433.4" width="5" height="16.6" fill="#1f1f1f"/>
<rect x="812" y="434.4" width="3" height="14.6" fill="#d4465a"/>
<rect x="819" y="444.0" width="1" height="10.5" fill="#333333"/>
<rect x="817" y="446.7" width="5" height="4.9" fill="#1f1f1f"/>
<rect x="818" y="447.7" width="3" height="2.9" fill="#3a9a86"/>
<rect x="825" y="438.2" width="1" height="20.2" fill="#333333"/>
<rect x="823" y="450" width="5" height="1.5" fill="#1f1f1f"/>
<rect x="831" y="448.6" width="1" height="24.1" fill="#333333"/>
<rect x="829" y="448.6" width="5" height="23.1" fill="#1f1f1f"/>
<rect x="830" y="449.6" width="3" height="21.1" fill="#d4465a"/>
<rect x="837" y="467.5" width="1" height="36.5" fill="#333333"/>
<rect x="835" y="470.1" width="5" height="28.4" fill="#1f1f1f"/>
<rect x="836" y="471.1" width="3" height="26.4" fill="#d4465a"/>
<rect x="843" y="481.6" width="1" height="20.8" fill="#333333"/>
<rect x="841" y="485.0" width="5" height="15.7" fill="#1f1f1f"/>
<rect x="842" y="486.0" width="3" height="13.7" fill="#3a9a86"/>
<rect x="849" y="472.7" width="1" height="15.6" fill="#333333"/>
<rect x="847" y="478.6" width="5" height="8.7" fill="#1f1f1f"/>
<rect x="848" y="479.6" width="3" height="6.7" fill="#3a9a86"/>
<rect x="855" y="460.7" width="1" height="19.8" fill="#333333"/>
<rect x="853" y="463.3" width="5" height="15.9" fill="#1f1f1f"/>
<rect x="854" y="464.3" width="3" height="13.9" fill="#3a9a86"/>
<rect x="861" y="459.7" width="1" height="15.6" fill="#333333"/>
<rect x="859" y="463.3" width="5" height="6.2" fill="#1f1f1f"/>
<rect x="860" y="464.3" width="3" height="4.2" fill="#d4465a"/>
<rect x="867" y="459.7" width="1" height="15.6" fill="#333333"/>
<rect x="865" y="467" width="5" height="1.5" fill="#1f1f1f"/>
<rect x="873" y="452.6" width="1" height="16.7" fill="#333333"/>
<rect x="871" y="457.1" width="5" height="11.6" fill="#1f1f1f"/>
<rect x="872" y="458.1" width="3" height="9.6" fill="#3a9a86"/>
<rect x="879" y="444.8" width="1" height="17.7" fill="#333333"/>
<rect x="877" y="456.2" width="5" height="5.0" fill="#1f1f1f"/>
<rect x="878" y="457.2" width="3" height="3.0" fill="#3a9a86"/>
<rect x="885" y="444.3" width="1" height="17.7" fill="#333333"/>
<rect x="883" y="448.4" width="5" height="11.2" fill="#1f1f1f"/>
<rect x="884" y="449.4" width="3" height="9.2" fill="#3a9a86"/>
<rect x="891" y="445.8" width="1" height="19.8" fill="#333333"/>
<rect x="889" y="448" width="5" height="1.5" fill="#1f1f1f"/>
<rect x="897" y="434.4" width="1" height="18.2" fill="#333333"/>
<rect x="895" y="438.3" width="5" height="14.3" fill="#1f1f1f"/>
<rect x="896" y="439.3" width="3" height="12.3" fill="#3a9a86"/>
<rect x="903" y="435.2" width="1" height="16.4" fill="#333333"/>
<rect x="901" y="442.2" width="5" height="4.2" fill="#1f1f1f"/>
<rect x="902" y="443.2" width="3" height="2.2" fill="#d4465a"/>
<rect x="909" y="438.0" width="1" height="25.5" fill="#333333"/>
<rect x="907" y="447.1" width="5" height="12.5" fill="#1f1f1f"/>
<rect x="908" y="448.1" width="3" height="10.5" fill="#d4465a"/>
<rect x="914" y="449.8" width="1" height="13.7" fill="#333333"/>
<rect x="912" y="459" width="5" height="1.5" fill="#1f1f1f"/>
<rect x="920" y="444.3" width="1" height="19.2" fill="#333333"/>
<rect x="918" y="446.7" width="5" height="13.7" fill="#1f1f1f"/>
<rect x="919" y="447.7" width="3" height="11.7" fill="#3a9a86"/>
<rect x="926" y="418.5" width="1" height="34.8" fill="#333333"/>
<rect x="924" y="422.0" width="5" height="27.5" fill="#1f1f1f"/>
<rect x="925" y="423.0" width="3" height="25.5" fill="#3a9a86"/>
<rect x="932" y="409.9" width="1" height="22.1" fill="#333333"/>
<rect x="930" y="413.3" width="5" height="8.4" fill="#1f1f1f"/>
<rect x="931" y="414.3" width="3" height="6.4" fill="#3a9a86"/>
<rect x="938" y="406.5" width="1" height="14.3" fill="#333333"/>
<rect x="936" y="413" width="5" height="1.5" fill="#1f1f1f"/>
<rect x="944" y="407.3" width="1" height="15.1" fill="#333333"/>
<rect x="942" y="412.3" width="5" height="5.2" fill="#1f1f1f"/>
<rect x="943" y="413.3" width="3" height="3.2" fill="#3a9a86"/>
<rect x="950" y="410.2" width="1" height="34.4" fill="#333333"/>
<rect x="948" y="413.3" width="5" height="31.3" fill="#1f1f1f"/>
<rect x="949" y="414.3" width="3" height="29.3" fill="#d4465a"/>
<rect x="956" y="440.1" width="1" height="13.5" fill="#333333"/>
<rect x="954" y="444.6" width="5" height="3.8" fill="#1f1f1f"/>
<rect x="955" y="445.6" width="3" height="1.8" fill="#d4465a"/>
<rect x="962" y="445.3" width="1" height="9.9" fill="#333333"/>
<rect x="960" y="450.5" width="5" height="3.1" fill="#1f1f1f"/>
<rect x="961" y="451.5" width="3" height="1.1" fill="#d4465a"/>
<rect x="968" y="442.7" width="1" height="16.9" fill="#333333"/>
<rect x="966" y="452.6" width="5" height="3.0" fill="#1f1f1f"/>
<rect x="967" y="453.6" width="3" height="1.0" fill="#d4465a"/>
<g fill="#131722" stroke="#fff" stroke-opacity="0.75" stroke-width="3" paint-order="stroke" stroke-linejoin="round"><path d="M63.7,639.1 H74.8 V652.6 H69.1 V644.4 H63.7 Z"/><circle cx="79.35" cy="641.85" r="2.55"/><path d="M83.9,639.1 H91.6 L86.2,652.6 H79.9 Z"/></g>
<text x="97.36" y="652.8" font-size="18.8" font-weight="700" fill="#131722" textLength="114.28" lengthAdjust="spacingAndGlyphs" stroke="#fff" stroke-opacity="0.75" stroke-width="3" paint-order="stroke" stroke-linejoin="round">TradingView</text>
</g>
<rect x="55" y="88" width="85" height="44" fill="#fff" fill-opacity="0.5"/>
<rect x="60.5" y="135.5" width="25.5" height="19" rx="3" fill="#fff" fill-opacity="0.75" stroke="#e6e6e6"/>
<path d="M69.2,147.3 l3.9,-3.5 l3.9,3.5" fill="none" stroke="#131722" stroke-width="1.3"/>
<rect x="66.5" y="47" width="36" height="15" rx="7.5" fill="#f2f5f5"/>
<rect x="66.5" y="47" width="20" height="15" rx="7.5" fill="#e6f5f1"/>
<path d="M86,47 h9 a7.5,7.5 0 0 1 0,15 h-9 z" fill="#fbe5ee"/>
<circle cx="76.5" cy="54.5" r="3.6" fill="#089981"/>
<text x="93.6" y="59.0" font-size="13" font-weight="700" fill="#e8458b" text-anchor="middle" >≈</text>
<text x="118.02" y="58.8" font-size="11.6" font-weight="400" fill="#131722" textLength="53.16" lengthAdjust="spacingAndGlyphs" >O0.52415</text>
<text x="175.82" y="58.8" font-size="11.6" font-weight="400" fill="#131722" textLength="52.16" lengthAdjust="spacingAndGlyphs" >H0.52554</text>
<text x="233.42" y="58.8" font-size="11.6" font-weight="400" fill="#131722" textLength="49.86" lengthAdjust="spacingAndGlyphs" >L0.52298</text>
<text x="288.62" y="58.8" font-size="11.6" font-weight="400" fill="#131722" textLength="51.46" lengthAdjust="spacingAndGlyphs" >C0.52378</text>
<text x="345.42" y="58.8" font-size="11.6" font-weight="400" fill="#131722" textLength="46.66" lengthAdjust="spacingAndGlyphs" >−0.00030</text>
<text x="395.82" y="58.8" font-size="11.6" font-weight="400" fill="#131722" textLength="48.26" lengthAdjust="spacingAndGlyphs" >(−0.06%)</text>
<text x="60.51" y="81.0" font-size="11.8" font-weight="400" fill="#2e323c" textLength="55.48" lengthAdjust="spacingAndGlyphs" >Vol · Ticks</text>
<text x="122.91" y="81.0" font-size="11.8" font-weight="400" fill="#df7780" textLength="40.18" lengthAdjust="spacingAndGlyphs" >17.64K</text>
<text x="60.55" y="103.5" font-size="11" font-weight="400" fill="#131722" textLength="22.90" lengthAdjust="spacingAndGlyphs" >EMA</text>
<text x="89.72" y="103.7" font-size="11.6" font-weight="400" fill="#df7780" textLength="43.46" lengthAdjust="spacingAndGlyphs" >0.52509</text>
<text x="60.55" y="125.2" font-size="11" font-weight="400" fill="#131722" textLength="22.90" lengthAdjust="spacingAndGlyphs" >EMA</text>
<text x="89.72" y="125.4" font-size="11.6" font-weight="400" fill="#6565cc" textLength="43.46" lengthAdjust="spacingAndGlyphs" >0.53903</text>
<text x="1172.0" y="47.6" font-size="11" font-weight="400" fill="#131722" text-anchor="end" >0.58500</text>
<text x="1172.0" y="81.2" font-size="11" font-weight="400" fill="#131722" text-anchor="end" >0.58000</text>
<text x="1172.0" y="114.8" font-size="11" font-weight="400" fill="#131722" text-anchor="end" >0.57500</text>
<text x="1172.0" y="148.4" font-size="11" font-weight="400" fill="#131722" text-anchor="end" >0.57000</text>
<text x="1172.0" y="182.0" font-size="11" font-weight="400" fill="#131722" text-anchor="end" >0.56500</text>
<text x="1172.0" y="215.7" font-size="11" font-weight="400" fill="#131722" text-anchor="end" >0.56000</text>
<text x="1172.0" y="249.3" font-size="11" font-weight="400" fill="#131722" text-anchor="end" >0.55500</text>
<text x="1172.0" y="282.9" font-size="11" font-weight="400" fill="#131722" text-anchor="end" >0.55000</text>
<text x="1172.0" y="316.5" font-size="11" font-weight="400" fill="#131722" text-anchor="end" >0.54500</text>
<text x="1172.0" y="350.1" font-size="11" font-weight="400" fill="#131722" text-anchor="end" >0.54000</text>
<text x="1172.0" y="383.7" font-size="11" font-weight="400" fill="#131722" text-anchor="end" >0.53500</text>
<text x="1172.0" y="417.3" font-size="11" font-weight="400" fill="#131722" text-anchor="end" >0.53000</text>
<text x="1172.0" y="484.5" font-size="11" font-weight="400" fill="#131722" text-anchor="end" >0.52000</text>
<text x="1172.0" y="518.1" font-size="11" font-weight="400" fill="#131722" text-anchor="end" >0.51500</text>
<text x="1172.0" y="551.8" font-size="11" font-weight="400" fill="#131722" text-anchor="end" >0.51000</text>
<text x="1172.0" y="585.4" font-size="11" font-weight="400" fill="#131722" text-anchor="end" >0.50500</text>
<text x="1172.0" y="619.0" font-size="11" font-weight="400" fill="#131722" text-anchor="end" >0.50000</text>
<text x="1172.0" y="652.6" font-size="11" font-weight="400" fill="#131722" text-anchor="end" >0.49500</text>
<rect x="1125" y="345" width="52" height="15.5" rx="2" fill="#2e2fe0"/>
<text x="1172.0" y="356.8" font-size="11" font-weight="700" fill="#fff" text-anchor="end" >0.53903</text>
<rect x="1125" y="405.5" width="52" height="15.300000000000011" rx="2" fill="#2962ff"/>
<text x="1172.0" y="417.2" font-size="11" font-weight="700" fill="#fff" text-anchor="end" >0.53000</text>
<rect x="1125" y="432" width="52" height="15" rx="2" fill="#e53a4e"/>
<text x="1172.0" y="443.5" font-size="11" font-weight="700" fill="#fff" text-anchor="end" >0.52509</text>
<rect x="1125" y="447.5" width="56" height="29" rx="2" fill="#ef3446"/>
<text x="1172.0" y="459.5" font-size="11" font-weight="700" fill="#fff" text-anchor="end" >0.52378</text>
<text x="1176.0" y="472.6" font-size="11.2" font-weight="400" fill="#fde8ea" text-anchor="end" >06:16:43</text>
<rect x="1125" y="490" width="52" height="14.699999999999989" rx="2" fill="#2962ff"/>
<text x="1172.0" y="501.4" font-size="11" font-weight="700" fill="#fff" text-anchor="end" >0.51750</text>
<rect x="1125" y="648.8" width="48.5" height="15" rx="2" fill="#ef5350"/>
<text x="1168.8" y="660.3" font-size="11" font-weight="700" fill="#fff" text-anchor="end" >17.64K</text>
<text x="111.2" y="683.4" font-size="11" font-weight="700" fill="#262a33" text-anchor="middle" >Mar</text>
<text x="236.7" y="683.4" font-size="11" font-weight="700" fill="#262a33" text-anchor="middle" >Apr</text>
<text x="366.7" y="683.4" font-size="11" font-weight="700" fill="#262a33" text-anchor="middle" >May</text>
<text x="497.7" y="683.4" font-size="11" font-weight="700" fill="#262a33" text-anchor="middle" >Jun</text>
<text x="622.7" y="683.4" font-size="11" font-weight="700" fill="#262a33" text-anchor="middle" >Jul</text>
<text x="759.7" y="683.4" font-size="11" font-weight="700" fill="#262a33" text-anchor="middle" >Aug</text>
<text x="884.7" y="683.4" font-size="11" font-weight="700" fill="#262a33" text-anchor="middle" >Sep</text>
<text x="1016.2" y="683.4" font-size="11" font-weight="700" fill="#262a33" text-anchor="middle" >Oct</text>
<path d="M1151.5,674.5 h7 l3.5,5.8 l-3.5,5.8 h-7 l-3.5,-5.8 z" fill="none" stroke="#131722" stroke-width="1.1"/>
<circle cx="1155" cy="680.3" r="2.1" fill="none" stroke="#131722" stroke-width="1.1"/>
<rect x="52" y="692" width="1134" height="2" fill="#f3f3f3"/>
<text x="65.37" y="716.4" font-size="12.6" font-weight="400" fill="#1e222d" textLength="15.56" lengthAdjust="spacingAndGlyphs" >1D</text>
<text x="90.87" y="716.4" font-size="12.6" font-weight="400" fill="#1e222d" textLength="16.06" lengthAdjust="spacingAndGlyphs" >5D</text>
<text x="117.87" y="716.4" font-size="12.6" font-weight="400" fill="#1e222d" textLength="16.76" lengthAdjust="spacingAndGlyphs" >1M</text>
<text x="144.67" y="716.4" font-size="12.6" font-weight="400" fill="#1e222d" textLength="17.56" lengthAdjust="spacingAndGlyphs" >3M</text>
<text x="171.97" y="716.4" font-size="12.6" font-weight="400" fill="#1e222d" textLength="17.36" lengthAdjust="spacingAndGlyphs" >6M</text>
<text x="198.37" y="716.4" font-size="12.6" font-weight="400" fill="#1e222d" textLength="24.76" lengthAdjust="spacingAndGlyphs" >YTD</text>
<text x="233.77" y="716.4" font-size="12.6" font-weight="400" fill="#1e222d" textLength="14.86" lengthAdjust="spacingAndGlyphs" >1Y</text>
<text x="259.07" y="716.4" font-size="12.6" font-weight="400" fill="#1e222d" textLength="14.96" lengthAdjust="spacingAndGlyphs" >5Y</text>
<text x="283.67" y="716.4" font-size="12.6" font-weight="400" fill="#1e222d" textLength="16.96" lengthAdjust="spacingAndGlyphs" >All</text>
<rect x="310" y="700" width="1" height="22" fill="#e0e3eb"/>
<g fill="none" stroke="#131722" stroke-width="1.1"><path d="M325.5,711 v-5 a2,2 0 0 1 2,-2 h12 a2,2 0 0 1 2,2 v10.5 a2,2 0 0 1 -2,2 h-6"/><path d="M325.5,708.5 h16 M329.5,701.5 v4.5 M337.5,701.5 v4.5"/><path d="M323,715.5 h8 M328.5,713 l2.5,2.5 l-2.5,2.5"/></g>
<text x="1097.76" y="715.7" font-size="12.8" font-weight="400" fill="#131722" textLength="78.28" lengthAdjust="spacingAndGlyphs" >14:43:15 UTC</text>
<text x="66.66" y="755.0" font-size="12.8" font-weight="400" fill="#131722" textLength="64.48" lengthAdjust="spacingAndGlyphs" >Pine Editor</text>
<text x="161.06" y="755.0" font-size="12.8" font-weight="400" fill="#131722" textLength="78.48" lengthAdjust="spacingAndGlyphs" >Trading Panel</text>
<path d="M1127.5,752.5 l7.5,-7 l7.5,7" fill="none" stroke="#131722" stroke-width="1.3"/>
<path d="M1160.5,747.5 V745 a2,2 0 0 1 2,-2 H1173.5 a2,2 0 0 1 2,2 V747.5 M1175.5,752.8 V755.3 a2,2 0 0 1 -2,2 H1162.5 a2,2 0 0 1 -2,-2 V752.8" fill="none" stroke="#131722" stroke-width="1.2"/>
<circle cx="24.15" cy="17.75" r="11.85" fill="#a67f6b"/>
<path d="M19.1,12.3 H28.7 M23.9,12.3 V23.2" stroke="#fff" stroke-width="2.5"/>
<circle cx="38.1" cy="9.1" r="9.2" fill="#fff"/>
<circle cx="38.1" cy="9.1" r="8.2" fill="#e3323f"/>
<path d="M34.2,7 l2,-1.3 v6.3 M39.6,7 l2,-1.3 v6.3" fill="none" stroke="#fff" stroke-width="1.7" stroke-linejoin="round"/>
<circle cx="65" cy="16.8" r="5.2" fill="none" stroke="#131722" stroke-width="1.6"/><path d="M68.8,20.6 l3.8,3.6" stroke="#131722" stroke-width="1.6"/>
<text x="78.69" y="22.8" font-size="12.3" font-weight="700" fill="#131722" textLength="49.43" lengthAdjust="spacingAndGlyphs" >AUDCHF</text>
<circle cx="159.2" cy="17.9" r="8.6" fill="none" stroke="#131722" stroke-width="1.2"/><path d="M154.5,17.9 h9.4 M159.2,13.2 v9.4" stroke="#131722" stroke-width="1.2"/>
<rect x="181.5" y="9" width="1" height="19" fill="#e8e8e8"/>
<rect x="224.5" y="9" width="1" height="19" fill="#e8e8e8"/>
<rect x="268.5" y="9" width="1" height="19" fill="#e8e8e8"/>
<rect x="436.5" y="9" width="1" height="19" fill="#e8e8e8"/>
<rect x="600.5" y="9" width="1" height="19" fill="#e8e8e8"/>
<rect x="1012.5" y="9" width="1" height="19" fill="#e8e8e8"/>
<text x="203.7" y="22.6" font-size="12" font-weight="700" fill="#2a2e39" text-anchor="middle" >D</text>
<g fill="none" stroke="#131722" stroke-width="1.1"><rect x="241.5" y="11.5" width="4" height="12"/><path d="M243.5,8 v3.5 M243.5,23.5 v3.5"/><rect x="249" y="13.5" width="4" height="8"/><path d="M251,10.5 v3 M251,21.5 v3"/></g>
<g fill="none" stroke="#131722" stroke-width="1.15" stroke-linejoin="round"><path d="M283,15.6 L287.2,11.2 L291.7,14.2 L298.9,9.1"/><path d="M283.3,25.7 V21.8 H287.2 V19.2 H291.7 V22.4 H294.3 V16.2 H298.6 V25.7 Z M287.2,21.8 V25.7 M291.7,22.4 V25.7 M294.3,22.4 V25.7"/></g>
<text x="307.16" y="22.9" font-size="12.8" font-weight="400" fill="#131722" textLength="58.48" lengthAdjust="spacingAndGlyphs" >Indicators</text>
<path d="M382.5,16.3 l3.7,3.5 l3.7,-3.5" fill="none" stroke="#131722" stroke-width="1.2"/>
<g fill="none" stroke="#131722" stroke-width="1.15"><rect x="407.6" y="11.1" width="5.4" height="5.4" rx="1.6"/><rect x="416.4" y="11.1" width="5.4" height="5.4" rx="1.6"/><rect x="407.6" y="19.4" width="5.4" height="5.4" rx="1.6"/><rect x="416.4" y="19.4" width="5.4" height="5.4" rx="1.6"/></g>
<g fill="none" stroke="#131722" stroke-width="1.1"><path d="M459.5,25.58 A8,8 0 1 1 465.83,19.77"/><path d="M458.5,13.3 v4.9 h-3.1"/><path d="M449.2,12.4 l3.5,-3.1 M467,12.4 l-3.6,-3.1"/><path d="M463.9,19.5 v8.1 M459.9,23.55 h8"/></g>
<text x="475.36" y="22.9" font-size="12.8" font-weight="400" fill="#131722" textLength="29.58" lengthAdjust="spacingAndGlyphs" >Alert</text>
<g fill="none" stroke="#131722" stroke-width="1.05" stroke-linejoin="round"><path d="M532,14.3 L525.8,18.7 L532,23.1 Z M538.8,14.3 L533,18.7 L538.8,23.1 Z"/></g>
<text x="547.66" y="22.9" font-size="12.8" font-weight="400" fill="#131722" textLength="39.68" lengthAdjust="spacingAndGlyphs" >Replay</text>
<path d="M620,13.5 l-4,4 l4,4 M616,17.5 h7 a5,5 0 0 1 5,5" fill="none" stroke="#131722" stroke-width="1.2"/>
<path d="M659,13.5 l4,4 l-4,4 M663,17.5 h-7 a5,5 0 0 0 -5,5" fill="none" stroke="#b2b5be" stroke-width="1.2"/>
<rect x="894.5" y="10.5" width="17" height="15" rx="3" fill="none" stroke="#131722" stroke-width="1.2"/>
<text x="924.97" y="18.2" font-size="12.6" font-weight="400" fill="#131722" textLength="55.46" lengthAdjust="spacingAndGlyphs" >Unnamed</text>
<text x="942.84" y="28.1" font-size="9.2" font-weight="400" fill="#4a6fe0" textLength="20.32" lengthAdjust="spacingAndGlyphs" >Save</text>
<path d="M993,15.5 l3.8,3.6 l3.8,-3.6" fill="none" stroke="#131722" stroke-width="1.2"/>
<g fill="none" stroke="#131722" stroke-width="1.2" stroke-linejoin="round"><path d="M1032.5,10.2 a6.8,6.8 0 1 0 7.3,7.6"/><path d="M1038,21.8 l4.7,4.7"/><path d="M1037.8,7.8 l-5,7 h3.2 l-1.8,4.6 l5.8,-7.4 h-3.2 z"/></g>
<path d="M1065,10.5 h10 l5,8 l-5,8 h-10 l-5,-8 z" fill="none" stroke="#131722" stroke-width="1.2"/><circle cx="1070" cy="18.5" r="3.2" fill="none" stroke="#131722" stroke-width="1.2"/>
<path d="M1098,15 v-3 a1.5,1.5 0 0 1 1.5,-1.5 h3 M1108,10.5 h3 a1.5,1.5 0 0 1 1.5,1.5 v3 M1112.5,21.5 v3 a1.5,1.5 0 0 1 -1.5,1.5 h-3 M1102.5,26 h-3 a1.5,1.5 0 0 1 -1.5,-1.5 v-3" fill="none" stroke="#131722" stroke-width="1.2"/>
<g fill="none" stroke="#131722" stroke-width="1.2"><path d="M1131,14 a1.5,1.5 0 0 1 1.5,-1.5 h3.5 l1.5,-2 h6 l1.5,2 h3.5 a1.5,1.5 0 0 1 1.5,1.5 v10 a1.5,1.5 0 0 1 -1.5,1.5 h-15 a1.5,1.5 0 0 1 -1.5,-1.5 z"/><circle cx="1140.5" cy="18.5" r="3.5"/></g>
<rect x="1162" y="4.8" width="64.6" height="25.8" rx="12.9" fill="#262626"/>
<text x="1173.20" y="22.3" font-size="12" font-weight="700" fill="#f4f4f4" textLength="42.60" lengthAdjust="spacingAndGlyphs" >Publish</text>
<rect x="8.5" y="47" width="31" height="31" rx="5" fill="#ebebeb"/>
<g fill="none" stroke="#131722" stroke-width="1.2" stroke-linejoin="round" stroke-linecap="round"><path d="M18,55.5 L29,63 L24.6,64.2 L27.6,69.6 L25.4,70.8 L22.5,65.6 L19.3,68.8 Z"/><path d="M14.5,98.5 h7.5 M27,98.5 h7.5"/><circle cx="24.5" cy="98.5" r="2.3"/><path d="M14.3,124.3 h20 M14.3,130.3 h17.4 M14.3,135.8 h20 M16.3,141.2 h18"/><circle cx="33.7" cy="130.3" r="2"/><circle cx="14.3" cy="141.2" r="2"/><path d="M19,160.4 L16.2,176.6 L22.9,167.3 Z M22.9,167.3 L30,161.6 L33.2,174.5 Z"/><circle cx="19" cy="160.4" r="1.9" fill="#fff"/><circle cx="30" cy="161.6" r="1.9" fill="#fff"/><circle cx="22.9" cy="167.3" r="1.9" fill="#fff"/><circle cx="16.2" cy="176.6" r="1.9" fill="#fff"/><circle cx="33.2" cy="174.5" r="1.9" fill="#fff"/><path d="M17,197.4 h16.5 M17,206.7 h13.7 M17,212.4 h16.5"/><circle cx="15" cy="197.4" r="1.9"/><circle cx="15" cy="206.7" r="1.9"/><circle cx="15" cy="212.4" r="1.9"/><circle cx="32.7" cy="206.7" r="1.9"/><path d="M20,204.6 l12.2,-5.1" stroke-dasharray="1.2 2"/><path d="M13.8,248 C16.5,242.5 19,238.5 22,237.2 L26.8,241.3 C26.3,245.5 24.5,248 21.5,248 Z"/><path d="M28,233.4 C27.6,236.5 28.8,238.2 30.8,238 L36.5,232.8"/><path d="M17.9,270.8 v-2.8 h13.6 v2.8 M24.7,268 v15.3 M21.5,283.3 h6.4" stroke-width="1.1"/><circle cx="24.4" cy="311" r="10"/><path d="M21,313.3 c1.8,3 5,3 6.8,0"/><circle cx="21.2" cy="309" r="0.7" fill="#131722"/><circle cx="27.4" cy="309" r="0.7" fill="#131722"/></g>
<rect x="8" y="334" width="32" height="1" fill="#e8e8e8"/>
<g fill="none" stroke="#131722" stroke-width="1.2" stroke-linejoin="round" stroke-linecap="round"><path d="M13.3,365 L30.5,347.8 L35.2,352.5 L18,369.7 Z M16.7,361.6 l1.6,1.6 M20.2,358.1 l2.4,2.4 M23.6,354.7 l1.6,1.6 M27.1,351.2 l2.4,2.4"/><circle cx="23" cy="392" r="7.5"/><path d="M28.5,397.5 l4,4 M19.5,392 h7 M23,388.5 v7"/></g>
<rect x="8" y="417" width="32" height="1" fill="#e8e8e8"/>
<g fill="none" stroke="#131722" stroke-width="1.2" stroke-linejoin="round" stroke-linecap="round"><path d="M17,450.5 v-10 a7,7 0 0 1 14,0 v10 h-4 v-10 a3,3 0 0 0 -6,0 v10 z M17,446.5 h4 M27,446.5 h4"/><path d="M14,486 l1,-5 l9,-10 l3.5,3 l-9,10 z M22,473 l3.5,3"/><rect x="26" y="480.5" width="6" height="5.5" rx="1"/><path d="M27.5,480.5 v-2 a1.5,1.5 0 0 1 3,0 v2"/><rect x="17.5" y="511" width="13" height="9.5" rx="1.5"/><path d="M20,511 v-4 a4,4 0 0 1 8,0 M24,514.5 v2"/><path d="M15,545 c5,-9 12,-9 17,0 c-5,8 -12,8 -17,0 z"/><circle cx="23.5" cy="545" r="2.5"/><path d="M25,558.5 c1,-3 4,-4 6,-3 c0,2 -3,3.5 -6,3 M31,555.5 l3,-2"/></g>
<rect x="8" y="571.5" width="32" height="1" fill="#e8e8e8"/>
<g fill="none" stroke="#131722" stroke-width="1.2" stroke-linejoin="round" stroke-linecap="round"><path d="M16.5,590.5 h16 M18.5,590.5 l1.5,15 h9 l1.5,-15 M21.5,590.5 v-2 a1.5,1.5 0 0 1 1.5,-1.5 h3 a1.5,1.5 0 0 1 1.5,1.5 v2"/></g>
<g fill="none" stroke="#131722" stroke-width="1.2" stroke-linejoin="round" stroke-linecap="round"><path d="M1202,51.5 h17 v20.5 l-8.5,-4.5 l-8.5,4.5 z M1205.5,56 h10 M1205.5,60 h10 M1205.5,64 h10"/><circle cx="1210.6" cy="104.4" r="9.8"/><path d="M1211.4,99 v7 h-5.2 M1199,97.3 l5.4,-4.8 M1222.6,97.3 l-5.4,-4.8"/><path d="M1210.5,138.5 l10,6.3 l-10,6.3 l-10,-6.3 z M1200.5,149 l10,6.3 l10,-6.3"/><path d="M1200.3,198.8 V183 a2.5,2.5 0 0 1 2.5,-2.5 H1216 a2.5,2.5 0 0 1 2.5,2.5 V192.1 a2.5,2.5 0 0 1 -2.5,2.5 H1204.3 Z"/><path d="M1218.5,188.3 a3,3 0 0 1 3,3 V202.4 L1217.6,198.2 H1210.3 a2.5,2.5 0 0 1 -2.5,-2.5 V194.6"/></g>
<g fill="none" stroke="#131722" stroke-width="1.2" stroke-linejoin="round" stroke-linecap="round"><circle cx="1210.9" cy="563.2" r="12.6"/><circle cx="1210.9" cy="563.2" r="7.3"/><circle cx="1210.9" cy="563.2" r="1.4" fill="#131722"/><path d="M1210.9,563.2 l8.2,-8.2"/><rect x="1200" y="597.5" width="21.5" height="19.5" rx="2.5"/><path d="M1200,604 h21.5"/><rect x="1203.8" y="595.4" width="2.8" height="5" rx="1.2" fill="#fff"/><rect x="1215.1" y="595.4" width="2.8" height="5" rx="1.2" fill="#fff"/></g>
<circle cx="1210.7" cy="649" r="15.5" fill="#1e1e1e"/>
<rect x="1202.5" y="640.8" width="3.6" height="3.6" fill="#fff"/>
<rect x="1202.5" y="647.2" width="3.6" height="3.6" fill="#fff"/>
<rect x="1202.5" y="653.6" width="3.6" height="3.6" fill="#fff"/>
<rect x="1208.9" y="640.8" width="3.6" height="3.6" fill="#fff"/>
<rect x="1208.9" y="647.2" width="3.6" height="3.6" fill="#fff"/>
<rect x="1208.9" y="653.6" width="3.6" height="3.6" fill="#fff"/>
<rect x="1215.3" y="640.8" width="3.6" height="3.6" fill="#fff"/>
<rect x="1215.3" y="647.2" width="3.6" height="3.6" fill="#fff"/>
<rect x="1215.3" y="653.6" width="3.6" height="3.6" fill="#fff"/>
<rect x="1194" y="675" width="33" height="1" fill="#e8e8e8"/>
<g fill="none" stroke="#131722" stroke-width="1.2" stroke-linejoin="round" stroke-linecap="round"><circle cx="1201.5" cy="709.5" r="1.5"/><path d="M1200,702 a8,8 0 0 1 8.5,9 M1200,696 a14,14 0 0 1 14.5,15 M1200,690.5 a20,20 0 0 1 21,20.5"/><circle cx="1210.6" cy="744.2" r="12.4" stroke-dasharray="4 7 30 8 40"/><path d="M1207.2,741 a3.5,3.5 0 1 1 5,3 c-1,0.5 -1.5,1.2 -1.5,2.5"/><circle cx="1210.7" cy="750" r="1"/><path d="M1220.8,731.8 l1.6,2.6 l2.6,1.4 l-2.6,1.4 l-1.6,2.6 l-1.6,-2.6 l-2.6,-1.4 l2.6,-1.4 z M1199.4,749.6 l1.2,1.8 l1.8,1.2 l-1.8,1.2 l-1.2,1.8 l-1.2,-1.8 l-1.8,-1.2 l1.8,-1.2 z" fill="#fff"/></g>
<path d="M0,762 a6,6 0 0 0 6,6 h-6 z" fill="#3a0a32"/>
<path d="M1231,762 a6,6 0 0 1 -6,6 h6 z" fill="#3a0a32"/>
</svg>
</body></html>
